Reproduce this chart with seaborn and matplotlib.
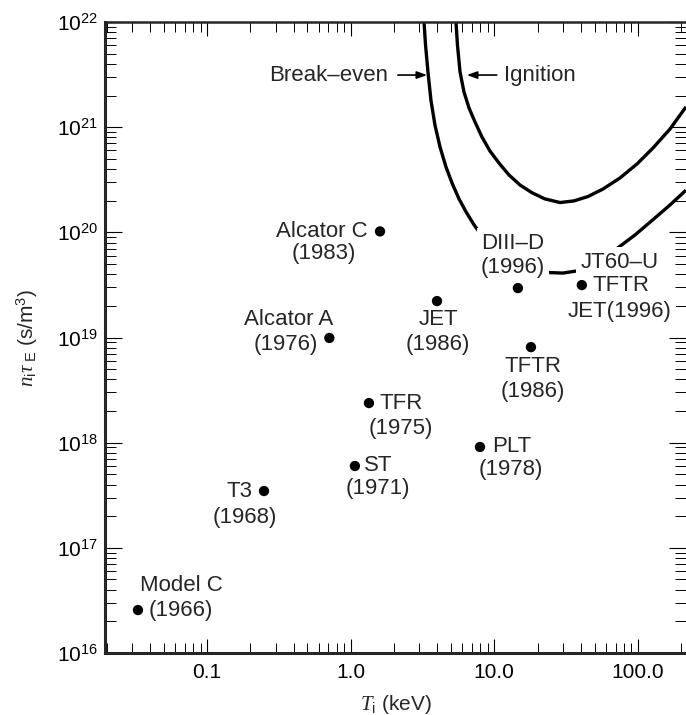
import numpy as np
import pandas as pd
import matplotlib
matplotlib.use("Agg")
import matplotlib.pyplot as plt
import seaborn as sns
from matplotlib.ticker import FixedLocator, FixedFormatter, LogLocator, NullFormatter

# ---------------- data ----------------
devices = ["Model C", "T3", "ST", "TFR", "PLT", "TFTR", "JET", "DIII-D", "JT60-U", "Alcator C", "Alcator A"]
ti_keV = [0.033, 0.249, 1.07, 1.34, 7.95, 18.0, 3.99, 14.6, 40.7, 1.6, 0.71]
ntau = [2.56e16, 3.47e17, 6.0e17, 2.38e18, 9.1e17, 8.1e18, 2.22e19, 2.95e19, 3.15e19, 1.02e20, 9.9e18]

ign_T = [5.41, 5.54, 5.77, 6.15, 6.67, 7.34, 8.21, 9.33, 10.78, 12.66, 15.1, 18.3, 22.5,
         28.7, 35.9, 44.9, 57.1, 75.1, 98.6, 127.4, 167.3, 216.3]
ign_n = [1.0e22, 6.04e21, 3.37e21, 2.16e21, 1.52e21, 1.12e21, 8.05e20, 5.93e20, 4.56e20,
         3.51e20, 2.82e20, 2.38e20, 2.08e20, 1.92e20, 1.99e20, 2.19e20, 2.58e20, 3.29e20,
         4.47e20, 6.34e20, 9.6e20, 1.56e21]

be_T = [3.24, 3.32, 3.45, 3.62, 3.86, 4.19, 4.61, 5.08, 5.68, 6.35, 7.22, 8.21, 9.64, 11.87,
        15.1, 19.2, 23.3, 30.1, 39.5, 52.7, 71.5, 95.5, 127.4, 167.3, 216.3]
be_n = [1.0e22, 6.04e21, 3.37e21, 1.81e21, 1.05e21, 6.47e20, 4.18e20, 2.94e20, 2.08e20,
        1.57e20, 1.18e20, 9.26e19, 7.44e19, 5.98e19, 5.02e19, 4.41e19, 4.15e19, 4.10e19,
        4.34e19, 5.34e19, 7.02e19, 9.44e19, 1.32e20, 1.82e20, 2.52e20]

x_ticks = [0.1, 1.0, 10.0, 100.0]
x_ticklabels = ["0.1", "1.0", "10.0", "100.0"]
y_ticks = [1e16, 1e17, 1e18, 1e19, 1e20, 1e21, 1e22]
y_ticklabels = [r"$\mathregular{10^{%d}}$" % e for e in range(16, 23)]

# label lines per point: (text, dx_px, dy_px(down positive), ha)
point_labels = [
    [("Model C", 2, -25, "left"), ("(1966)", 11, 0, "left")],
    [("T3", -11, 0, "right"), ("(1968)", -19, 26, "center")],
    [("ST", 9, 0, "left"), ("(1971)", 23, 23, "center")],
    [("TFR", 11, 0, "left"), ("(1975)", 32, 25, "center")],
    [("PLT", 12, 0, "left"), ("(1978)", 31, 23, "center")],
    [("TFTR", 2, 19, "center"), ("(1986)", 2, 44, "center")],
    [("JET", 1, 18, "center"), ("(1986)", 1, 43, "center")],
    [("DIII\u2013D", -5, -45, "center"), ("(1996)", -5, -21, "center")],
    [("JT60\u2013U", 38, -23, "center"), ("TFTR", 11, 0, "left"), ("JET(1996)", 38, 26, "center")],
    [("Alcator C", -12, 0, "right"), ("(1983)", -56, 22, "center")],
    [("Alcator A", 4, -18, "right"), ("(1976)", -11, 7, "right")],
]

# ---------------- style ----------------
sns.set_style("ticks")
plt.rcParams["font.family"] = ["Liberation Sans", "DejaVu Sans"]
plt.rcParams["mathtext.fontset"] = "custom"
plt.rcParams["mathtext.rm"] = "Liberation Sans"
plt.rcParams["mathtext.it"] = "Liberation Serif:italic"
plt.rcParams["mathtext.sf"] = "Liberation Sans"

fig = plt.figure(figsize=(6.86, 7.15), dpi=100)
ax = fig.add_axes([105 / 686, 62 / 715, 581 / 686, 631 / 715])

df_pts = pd.DataFrame({"device": devices, "T": ti_keV, "n": ntau})
df_ign = pd.DataFrame({"T": ign_T, "n": ign_n})
df_be = pd.DataFrame({"T": be_T, "n": be_n})

ax.set_xscale("log")
ax.set_yscale("log")

for d in (df_ign, df_be):
    sns.lineplot(data=d, x="T", y="n", sort=False, estimator=None, color="black", lw=2.4,
                 ax=ax, zorder=2, solid_joinstyle="round", solid_capstyle="butt")
sns.scatterplot(data=df_pts, x="T", y="n", color="black", s=55, edgecolor="none", ax=ax, zorder=6)

ax.set_xlim(10 ** -1.711, 10 ** 2.335)
ax.set_ylim(1e16, 1e22)

fs = 15
fa = 16
for name, (x, y), lines in zip(devices, zip(ti_keV, ntau), point_labels):
    pad = 0.2 if name in ("DIII-D", "JT60-U") else 0.02
    for txt, dx, dy, ha in lines:
        ax.annotate(txt, xy=(x, y), xytext=(dx, -dy), textcoords="offset pixels",
                    ha=ha, va="center", fontsize=fa, zorder=5,
                    bbox=dict(boxstyle="square,pad=%g" % pad, fc="white", ec="none"))

# curve labels with arrows
ax.annotate("", xy=(3.40, 3.13e21), xytext=(2.13, 3.13e21),
            arrowprops=dict(arrowstyle="-|>,head_length=0.6,head_width=0.22", color="black", lw=1.2,
                            shrinkA=0, shrinkB=0))
ax.text(1.83, 3.13e21, "Break\u2013even", ha="right", va="center", fontsize=fa)
ax.annotate("", xy=(6.45, 3.13e21), xytext=(10.4, 3.13e21),
            arrowprops=dict(arrowstyle="-|>,head_length=0.6,head_width=0.22", color="black", lw=1.2,
                            shrinkA=0, shrinkB=0))
ax.text(11.7, 3.13e21, "Ignition", ha="left", va="center", fontsize=fa)

# ticks
ax.xaxis.set_major_locator(FixedLocator(x_ticks))
ax.xaxis.set_major_formatter(FixedFormatter(x_ticklabels))
ax.xaxis.set_minor_locator(LogLocator(base=10, subs=np.arange(2, 10)))
ax.xaxis.set_minor_formatter(NullFormatter())
ax.yaxis.set_major_locator(FixedLocator(y_ticks))
ax.yaxis.set_major_formatter(FixedFormatter(y_ticklabels))
ax.yaxis.set_minor_locator(LogLocator(base=10, subs=np.arange(2, 10)))
ax.yaxis.set_minor_formatter(NullFormatter())

ax.tick_params(which="both", direction="in", top=True, right=True, colors="black", labelsize=fs)
ax.tick_params(axis="x", which="major", length=10, width=0.8, pad=7)
ax.tick_params(axis="x", which="minor", length=7, width=0.7)
ax.tick_params(axis="y", which="major", length=12, width=0.8, pad=5)
ax.tick_params(axis="y", which="minor", length=8, width=0.7)

for side in ["left", "bottom"]:
    ax.spines[side].set_linewidth(2.2)
ax.spines["top"].set_linewidth(1.8)
ax.spines["right"].set_visible(False)

ax.set_xlabel(r"$T_{\mathrm{i}}$ (keV)", fontsize=fs, labelpad=8)
ax.set_ylabel(r"$n_{\mathrm{i}}\tau_{\ \mathrm{E}}$ (s/m$^3$)", fontsize=fs, labelpad=12)

fig.savefig("out.png", dpi=100)
